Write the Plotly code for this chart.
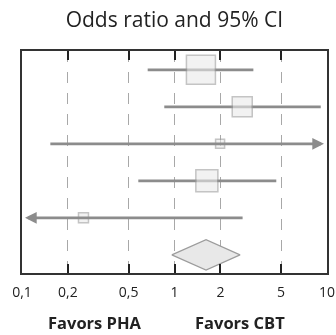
import math
import plotly.graph_objects as go

# Study-level odds ratios (CBT vs PHA) with 95% confidence limits
rows = [1, 2, 3, 4, 5]
odds_ratio = [1.49, 2.78, 1.99, 1.63, 0.253]
ci_low = [0.667, 0.857, 0.150, 0.579, 0.04]
ci_high = [3.29, 9.1, 25.0, 4.65, 2.86]
box_size = [29, 20, 9, 22, 10]

# Pooled estimate
pooled_row = 6
pooled_or = 1.61
pooled_low = 0.96
pooled_high = 2.69

tick_vals = [0.1, 0.2, 0.5, 1, 2, 5, 10]
tick_text = ["0,1", "0,2", "0,5", "1", "2", "5", "10"]

x_min, x_max = 0.1, 10
LINE = "#8c8c8c"
FILL = "#e8e8e8"
EDGE = "#9c9c9c"
FONT = "Open Sans"

fig = go.Figure()
annotations = []

for r, o, lo, hi in zip(rows, odds_ratio, ci_low, ci_high):
    lo_c = max(lo, x_min)
    hi_c = min(hi, x_max)
    if lo < x_min or hi > x_max:
        # Off-scale interval: draw as an arrow pointing past the axis limit
        if hi > x_max:
            tail, head = lo_c, hi_c
        else:
            tail, head = hi_c, lo_c
        annotations.append(dict(
            x=math.log10(head), y=r, ax=math.log10(tail), ay=r,
            xref="x", yref="y", axref="x", ayref="y",
            text="", showarrow=True, arrowhead=2, arrowsize=0.9,
            arrowwidth=2.6, arrowcolor=LINE, standoff=3, startstandoff=0,
        ))
    else:
        fig.add_trace(go.Scatter(
            x=[lo_c, hi_c], y=[r, r], mode="lines",
            line=dict(color=LINE, width=2.6), hoverinfo="skip",
        ))

# Weighted squares at the point estimates
fig.add_trace(go.Scatter(
    x=odds_ratio, y=rows, mode="markers",
    marker=dict(symbol="square", size=box_size, color=FILL,
                line=dict(color=EDGE, width=1.5)),
    opacity=0.85,
))

# Pooled diamond
h = 0.41
fig.add_trace(go.Scatter(
    x=[pooled_low, pooled_or, pooled_high, pooled_or, pooled_low],
    y=[pooled_row, pooled_row - h, pooled_row, pooled_row + h, pooled_row],
    mode="lines", fill="toself", fillcolor=FILL,
    line=dict(color=EDGE, width=1.2),
))

annotations += [
    dict(text="<b>Favors PHA</b>", x=0.238, y=-0.222, xref="paper", yref="paper",
         xanchor="center", yanchor="middle", showarrow=False,
         font=dict(family=FONT, size=16.5, color="#222")),
    dict(text="<b>Favors CBT</b>", x=0.714, y=-0.222, xref="paper", yref="paper",
         xanchor="center", yanchor="middle", showarrow=False,
         font=dict(family=FONT, size=16.5, color="#222")),
]

fig.update_layout(
    width=336, height=335,
    margin=dict(l=22, r=9, t=51, b=62),
    paper_bgcolor="white", plot_bgcolor="white",
    showlegend=False,
    font=dict(family=FONT, color="#222"),
    title=dict(text="Odds ratio and 95% CI", x=0.519, xanchor="center",
               y=0.94, yanchor="middle",
               font=dict(family=FONT, size=21, color="#222")),
    annotations=annotations,
    xaxis=dict(
        type="log", range=[math.log10(x_min), math.log10(x_max)],
        tickvals=tick_vals, ticktext=tick_text, automargin=False,
        ticks="inside", ticklen=9, tickwidth=1.5, tickcolor="#222",
        showline=True, linecolor="#333", linewidth=1.5, mirror="ticks",
        showgrid=True, gridcolor="#a8a8a8", gridwidth=1.2,
        griddash="11px,10px",
        tickfont=dict(family=FONT, size=14, color="#222"),
        ticklabelstandoff=5, zeroline=False,
    ),
    yaxis=dict(
        range=[6.49, 0.49], showticklabels=False, ticks="",
        showline=True, linecolor="#333", linewidth=1.5, mirror=True,
        showgrid=False, zeroline=False, automargin=False,
    ),
)

fig.write_html("out.html")
